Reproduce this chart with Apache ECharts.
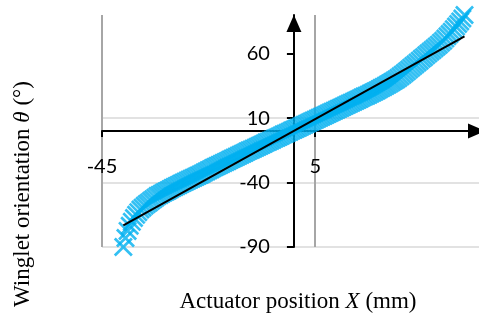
<!DOCTYPE html>
<html>
<head>
<meta charset="utf-8">
<script src="https://cdn.jsdelivr.net/npm/echarts@6/dist/echarts.min.js"></script>
<style>
html, body { margin: 0; padding: 0; background: #fff; }
#chart { width: 479px; height: 322px; }
</style>
</head>
<body>
<div id="chart"></div>
<script>
// actuator position X (mm)
var positionX = [-40, -39.5, -39, -38.5, -38, -37.5, -37, -36.5, -36, -35.5, -35, -34.5, -34, -33.5, -33, -32.5, -32, -31.5, -31, -30.5,
	-30, -29.5, -29, -28.5, -28, -27.5, -27, -26.5, -26, -25.5, -25, -24.5, -24, -23.5, -23, -22.5, -22, -21.5, -21, -20.5,
	-20, -19.5, -19, -18.5, -18, -17.5, -17, -16.5, -16, -15.5, -15, -14.5, -14, -13.5, -13, -12.5, -12, -11.5, -11, -10.5,
	-10, -9.5, -9, -8.5, -8, -7.5, -7, -6.5, -6, -5.5, -5, -4.5, -4, -3.5, -3, -2.5, -2, -1.5, -1, -0.5,
	0, 0.5, 1, 1.5, 2, 2.5, 3, 3.5, 4, 4.5, 5, 5.5, 6, 6.5, 7, 7.5, 8, 8.5, 9, 9.5,
	10, 10.5, 11, 11.5, 12, 12.5, 13, 13.5, 14, 14.5, 15, 15.5, 16, 16.5, 17, 17.5, 18, 18.5, 19, 19.5,
	20, 20.5, 21, 21.5, 22, 22.5, 23, 23.5, 24, 24.5, 25, 25.5, 26, 26.5, 27, 27.5, 28, 28.5, 29, 29.5,
	30, 30.5, 31, 31.5, 32, 32.5, 33, 33.5, 34, 34.5, 35, 35.5, 36, 36.5, 37, 37.5, 38, 38.5, 39, 39.5, 40];
// winglet orientation theta (deg)
var orientation = [-90, -83, -77.5, -73.5, -70.5, -67.5, -65, -63, -61, -59.5, -58, -56.7, -55.5, -54.2, -53, -51.7, -50.5, -49.6, -48.7, -47.8,
	-47, -46.1, -45.2, -44.3, -43.5, -42.6, -41.8, -41, -40.2, -39.4, -38.6, -37.8, -37, -36.2, -35.5, -34.7, -34, -33.1, -32.2, -31.4,
	-30.5, -29.7, -28.8, -28, -27.2, -26.4, -25.6, -24.8, -24, -23.2, -22.4, -21.6, -20.8, -20, -19.2, -18.4, -17.6, -16.8, -16, -15.2,
	-14.5, -13.7, -13, -12.2, -11.4, -10.6, -9.8, -9, -8.3, -7.5, -6.7, -5.9, -5.2, -4.4, -3.6, -2.8, -2.1, -1.3, -0.5, 0.3,
	1, 1.8, 2.5, 3.3, 4.1, 4.9, 5.6, 6.4, 7.2, 8, 8.7, 9.5, 10.3, 11.1, 11.8, 12.6, 13.4, 14.2, 15, 15.7,
	16.5, 17.3, 18, 18.8, 19.6, 20.4, 21.2, 22, 22.7, 23.5, 24.3, 25.1, 25.9, 26.7, 27.4, 28.2, 29, 29.8, 30.7, 31.5,
	32.4, 33.3, 34.2, 35.1, 36, 37, 38, 39, 40, 41.2, 42.4, 43.7, 45, 46.3, 47.7, 49.1, 50.5, 51.8, 53.2, 54.6,
	56, 57.3, 58.7, 60.1, 61.5, 62.8, 64.2, 65.6, 67, 68.5, 70, 71.7, 73.5, 75.2, 77, 79, 81, 83, 85, 87.3, 90];
// linear trend line end points
var trendX = [-40, 40];
var trendY = [-73.3, 73.4];
// tick labels
var xTicks = [-45, 5];
var yTicks = [-90, -40, 10, 60];

var xMin = -45, xMax = 43.4, yMin = -90, yMax = 90;
var gridBox = { left: 102, right: 0, top: 15, bottom: 75 };
var plotW = 479 - gridBox.left - gridBox.right;
var plotH = 322 - gridBox.top - gridBox.bottom;

// the axes cross at zero; move them there (labels included)
var yAxisOffset = -(0 - xMin) / (xMax - xMin) * plotW;
var xAxisOffset = -(0 - yMin) / (yMax - yMin) * plotH;

var labelFont = { color: '#000', fontFamily: 'Lato', fontSize: 20 };

function serifRich(size)
{
	return {
		r: { fontFamily: 'Liberation Serif', fontSize: size, fill: '#000' },
		i: { fontFamily: 'Liberation Serif', fontSize: size, fontStyle: 'italic', fill: '#000' }
	};
}

var chart = echarts.init(document.getElementById('chart'));

var options =
{
	animation: false,
	grid: gridBox,
	xAxis:
	{
		type: 'value',
		position: 'bottom',
		offset: xAxisOffset,
		min: xMin,
		max: xMax,
		interval: 50,
		axisLine:
		{
			onZero: false,
			symbol: ['none', 'triangle'],
			symbolSize: [15, 17],
			symbolOffset: [0, -2.5],
			lineStyle: { color: '#000', width: 2 }
		},
		axisTick: { customValues: xTicks, length: 6, lineStyle: { color: '#000', width: 2 } },
		axisLabel: Object.assign({ customValues: xTicks, margin: 26 }, labelFont),
		splitLine: { show: false }
	},
	yAxis:
	{
		type: 'value',
		position: 'left',
		offset: yAxisOffset,
		min: yMin,
		max: yMax,
		interval: 50,
		axisLine:
		{
			onZero: false,
			symbol: ['none', 'triangle'],
			symbolSize: [15, 17],
			symbolOffset: [0, -8.5],
			lineStyle: { color: '#000', width: 2 }
		},
		axisTick: { customValues: yTicks, length: 7, lineStyle: { color: '#000', width: 2 } },
		axisLabel: Object.assign({ customValues: yTicks, margin: 24 }, labelFont),
		splitLine: { show: true, showMaxLine: false, lineStyle: { color: '#d9d9d9', width: 1.5 } }
	},
	graphic:
	[
		{
			type: 'text',
			x: 23,
			y: 194,
			rotation: Math.PI / 2,
			style:
			{
				text: '{r|Winglet orientation }{i|θ}{r| (°)}',
				rich: serifRich(23),
				align: 'center',
				verticalAlign: 'middle'
			}
		},
		{
			type: 'text',
			x: 298,
			y: 302,
			style:
			{
				text: '{r|Actuator position }{i|X}{r| (mm)}',
				rich: serifRich(23),
				align: 'center',
				verticalAlign: 'middle'
			}
		}
	],
	series:
	[
		{
			type: 'scatter',
			symbol: 'path://M1,0L5,4L9,0L10,1L6,5L10,9L9,10L5,6L1,10L0,9L4,5L0,1Z',
			symbolSize: 19,
			itemStyle: { color: '#00b0f0' },
			data: positionX.map(function(x, i) { return [x, orientation[i]]; }),
			z: 3,
			// vertical gridlines at the x tick values, kept under the axis labels
			markLine:
			{
				silent: true,
				z: 0,
				symbol: ['none', 'none'],
				label: { show: false },
				lineStyle: { color: '#a6a6a6', width: 2, type: 'solid' },
				data: xTicks.map(function(v) { return { xAxis: v }; })
			}
		},
		{
			type: 'line',
			symbol: 'none',
			lineStyle: { color: '#000', width: 2 },
			data: trendX.map(function(x, i) { return [x, trendY[i]]; }),
			z: 4
		}
	]
};

chart.setOption(options);
</script>
</body>
</html>
